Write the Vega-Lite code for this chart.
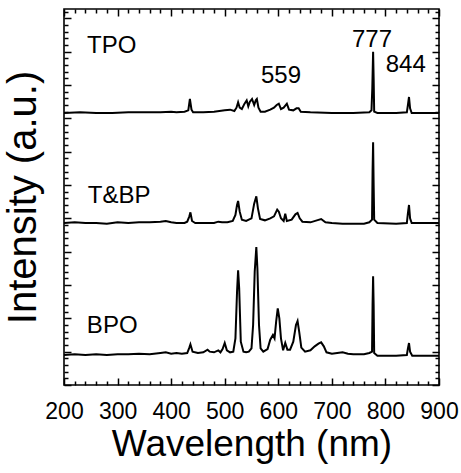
{
  "$schema": "https://vega.github.io/schema/vega-lite/v6.json",
  "autosize": "none",
  "width": 375,
  "height": 376,
  "padding": {"left": 64, "top": 9, "right": 22, "bottom": 88},
  "background": "white",
  "config": {
    "view": {"stroke": "black", "strokeWidth": 1.6},
    "font": "Liberation Sans",
    "axis": {"grid": false, "domain": false, "tickColor": "black", "tickWidth": 1.5, "tickRound": true, "labelColor": "black", "titleColor": "black", "titleFontWeight": "normal", "labelFont": "Liberation Sans", "titleFont": "Liberation Sans"}
  },
  "datasets": {
    "spectra": [
      {"s":"BPO","w":200,"v":4.5},{"s":"BPO","w":220,"v":4.6},{"s":"BPO","w":240,"v":4.5},{"s":"BPO","w":260,"v":4.6},{"s":"BPO","w":280,"v":4.5},{"s":"BPO","w":300,"v":4.6},{"s":"BPO","w":320,"v":4.6},{"s":"BPO","w":340,"v":4.7},{"s":"BPO","w":360,"v":4.6},{"s":"BPO","w":380,"v":4.8},{"s":"BPO","w":390,"v":4.9},{"s":"BPO","w":400,"v":4.7},{"s":"BPO","w":410,"v":4.8},{"s":"BPO","w":420,"v":4.7},{"s":"BPO","w":430,"v":4.8},{"s":"BPO","w":434,"v":5.6},{"s":"BPO","w":436,"v":6.1},{"s":"BPO","w":440,"v":5.0},{"s":"BPO","w":450,"v":4.8},{"s":"BPO","w":460,"v":4.9},{"s":"BPO","w":468,"v":5.3},{"s":"BPO","w":472,"v":5.0},{"s":"BPO","w":480,"v":4.9},{"s":"BPO","w":488,"v":5.2},{"s":"BPO","w":492,"v":4.9},{"s":"BPO","w":496,"v":5.4},{"s":"BPO","w":500,"v":6.3},{"s":"BPO","w":504,"v":5.2},{"s":"BPO","w":510,"v":4.9},{"s":"BPO","w":516,"v":5.0},{"s":"BPO","w":520,"v":7.0},{"s":"BPO","w":523,"v":14.0},{"s":"BPO","w":525,"v":17.2},{"s":"BPO","w":527,"v":14.5},{"s":"BPO","w":530,"v":6.5},{"s":"BPO","w":535,"v":5.0},{"s":"BPO","w":540,"v":4.9},{"s":"BPO","w":545,"v":5.0},{"s":"BPO","w":550,"v":5.5},{"s":"BPO","w":553,"v":9.0},{"s":"BPO","w":556,"v":17.0},{"s":"BPO","w":559,"v":20.7},{"s":"BPO","w":561,"v":17.5},{"s":"BPO","w":564,"v":9.0},{"s":"BPO","w":567,"v":5.5},{"s":"BPO","w":572,"v":5.0},{"s":"BPO","w":580,"v":5.4},{"s":"BPO","w":585,"v":6.8},{"s":"BPO","w":590,"v":7.5},{"s":"BPO","w":593,"v":7.0},{"s":"BPO","w":596,"v":9.5},{"s":"BPO","w":599,"v":11.5},{"s":"BPO","w":602,"v":10.0},{"s":"BPO","w":605,"v":7.0},{"s":"BPO","w":609,"v":5.2},{"s":"BPO","w":613,"v":6.3},{"s":"BPO","w":617,"v":5.3},{"s":"BPO","w":622,"v":5.3},{"s":"BPO","w":628,"v":6.5},{"s":"BPO","w":633,"v":9.0},{"s":"BPO","w":636,"v":9.6},{"s":"BPO","w":639,"v":8.0},{"s":"BPO","w":643,"v":5.6},{"s":"BPO","w":650,"v":5.0},{"s":"BPO","w":660,"v":5.2},{"s":"BPO","w":668,"v":5.8},{"s":"BPO","w":675,"v":6.2},{"s":"BPO","w":680,"v":6.4},{"s":"BPO","w":685,"v":5.8},{"s":"BPO","w":690,"v":4.9},{"s":"BPO","w":700,"v":4.7},{"s":"BPO","w":710,"v":4.8},{"s":"BPO","w":720,"v":4.9},{"s":"BPO","w":730,"v":4.7},{"s":"BPO","w":740,"v":4.6},{"s":"BPO","w":750,"v":4.6},{"s":"BPO","w":760,"v":4.6},{"s":"BPO","w":770,"v":4.8},{"s":"BPO","w":775,"v":5.0},{"s":"BPO","w":776,"v":12.0},{"s":"BPO","w":777,"v":16.3},{"s":"BPO","w":778,"v":12.0},{"s":"BPO","w":779,"v":4.8},{"s":"BPO","w":785,"v":4.4},{"s":"BPO","w":800,"v":4.4},{"s":"BPO","w":820,"v":4.4},{"s":"BPO","w":840,"v":4.5},{"s":"BPO","w":842,"v":5.5},{"s":"BPO","w":844,"v":6.3},{"s":"BPO","w":846,"v":5.0},{"s":"BPO","w":850,"v":4.4},{"s":"BPO","w":870,"v":4.4},{"s":"BPO","w":900,"v":4.4},
      {"s":"TBP","w":200,"v":24.3},{"s":"TBP","w":220,"v":24.4},{"s":"TBP","w":240,"v":24.3},{"s":"TBP","w":260,"v":24.3},{"s":"TBP","w":280,"v":24.2},{"s":"TBP","w":300,"v":24.4},{"s":"TBP","w":320,"v":24.3},{"s":"TBP","w":340,"v":24.4},{"s":"TBP","w":360,"v":24.4},{"s":"TBP","w":380,"v":24.5},{"s":"TBP","w":390,"v":24.6},{"s":"TBP","w":400,"v":24.4},{"s":"TBP","w":410,"v":24.3},{"s":"TBP","w":425,"v":24.3},{"s":"TBP","w":430,"v":24.5},{"s":"TBP","w":434,"v":25.3},{"s":"TBP","w":436,"v":25.9},{"s":"TBP","w":439,"v":24.6},{"s":"TBP","w":445,"v":24.3},{"s":"TBP","w":460,"v":24.3},{"s":"TBP","w":480,"v":24.3},{"s":"TBP","w":488,"v":24.5},{"s":"TBP","w":495,"v":24.4},{"s":"TBP","w":505,"v":24.4},{"s":"TBP","w":515,"v":24.6},{"s":"TBP","w":520,"v":25.5},{"s":"TBP","w":523,"v":27.0},{"s":"TBP","w":525,"v":27.6},{"s":"TBP","w":528,"v":26.0},{"s":"TBP","w":532,"v":24.8},{"s":"TBP","w":540,"v":24.6},{"s":"TBP","w":545,"v":24.8},{"s":"TBP","w":550,"v":25.0},{"s":"TBP","w":555,"v":27.2},{"s":"TBP","w":559,"v":28.3},{"s":"TBP","w":562,"v":26.5},{"s":"TBP","w":566,"v":24.9},{"s":"TBP","w":575,"v":24.7},{"s":"TBP","w":585,"v":25.0},{"s":"TBP","w":592,"v":25.3},{"s":"TBP","w":598,"v":26.3},{"s":"TBP","w":601,"v":26.0},{"s":"TBP","w":605,"v":25.0},{"s":"TBP","w":610,"v":24.6},{"s":"TBP","w":613,"v":25.7},{"s":"TBP","w":616,"v":24.6},{"s":"TBP","w":625,"v":24.8},{"s":"TBP","w":632,"v":25.6},{"s":"TBP","w":636,"v":25.8},{"s":"TBP","w":640,"v":25.0},{"s":"TBP","w":645,"v":24.5},{"s":"TBP","w":660,"v":24.4},{"s":"TBP","w":672,"v":24.7},{"s":"TBP","w":680,"v":24.9},{"s":"TBP","w":688,"v":24.4},{"s":"TBP","w":700,"v":24.3},{"s":"TBP","w":720,"v":24.2},{"s":"TBP","w":740,"v":24.2},{"s":"TBP","w":760,"v":24.2},{"s":"TBP","w":770,"v":24.4},{"s":"TBP","w":775,"v":24.8},{"s":"TBP","w":776,"v":32.0},{"s":"TBP","w":777,"v":36.4},{"s":"TBP","w":778,"v":30.0},{"s":"TBP","w":779,"v":24.8},{"s":"TBP","w":785,"v":24.3},{"s":"TBP","w":820,"v":24.2},{"s":"TBP","w":840,"v":24.3},{"s":"TBP","w":842,"v":25.8},{"s":"TBP","w":844,"v":27.0},{"s":"TBP","w":846,"v":25.0},{"s":"TBP","w":849,"v":24.3},{"s":"TBP","w":870,"v":24.3},{"s":"TBP","w":900,"v":24.3},
      {"s":"TPO","w":200,"v":40.8},{"s":"TPO","w":230,"v":40.9},{"s":"TPO","w":260,"v":40.8},{"s":"TPO","w":290,"v":40.8},{"s":"TPO","w":320,"v":40.9},{"s":"TPO","w":350,"v":40.9},{"s":"TPO","w":380,"v":40.9},{"s":"TPO","w":400,"v":41.0},{"s":"TPO","w":410,"v":40.9},{"s":"TPO","w":425,"v":41.0},{"s":"TPO","w":432,"v":41.2},{"s":"TPO","w":435,"v":42.9},{"s":"TPO","w":438,"v":41.3},{"s":"TPO","w":441,"v":40.9},{"s":"TPO","w":460,"v":40.9},{"s":"TPO","w":480,"v":41.0},{"s":"TPO","w":500,"v":41.2},{"s":"TPO","w":510,"v":41.3},{"s":"TPO","w":518,"v":41.1},{"s":"TPO","w":522,"v":41.6},{"s":"TPO","w":525,"v":42.4},{"s":"TPO","w":528,"v":41.6},{"s":"TPO","w":532,"v":41.4},{"s":"TPO","w":537,"v":42.2},{"s":"TPO","w":541,"v":42.7},{"s":"TPO","w":544,"v":41.8},{"s":"TPO","w":547,"v":42.5},{"s":"TPO","w":551,"v":42.9},{"s":"TPO","w":555,"v":42.0},{"s":"TPO","w":558,"v":42.7},{"s":"TPO","w":560,"v":42.9},{"s":"TPO","w":563,"v":41.6},{"s":"TPO","w":567,"v":41.0},{"s":"TPO","w":575,"v":41.0},{"s":"TPO","w":585,"v":41.3},{"s":"TPO","w":592,"v":41.6},{"s":"TPO","w":597,"v":42.0},{"s":"TPO","w":601,"v":42.2},{"s":"TPO","w":605,"v":41.4},{"s":"TPO","w":610,"v":41.6},{"s":"TPO","w":616,"v":42.2},{"s":"TPO","w":620,"v":41.3},{"s":"TPO","w":628,"v":41.2},{"s":"TPO","w":634,"v":41.5},{"s":"TPO","w":638,"v":41.5},{"s":"TPO","w":642,"v":41.0},{"s":"TPO","w":660,"v":40.9},{"s":"TPO","w":700,"v":40.8},{"s":"TPO","w":740,"v":40.8},{"s":"TPO","w":770,"v":40.9},{"s":"TPO","w":774,"v":41.2},{"s":"TPO","w":775.5,"v":44.5},{"s":"TPO","w":777,"v":50.0},{"s":"TPO","w":778,"v":46.0},{"s":"TPO","w":779,"v":41.0},{"s":"TPO","w":785,"v":40.8},{"s":"TPO","w":820,"v":40.8},{"s":"TPO","w":840,"v":40.9},{"s":"TPO","w":842,"v":42.0},{"s":"TPO","w":844,"v":43.2},{"s":"TPO","w":846,"v":41.5},{"s":"TPO","w":849,"v":40.8},{"s":"TPO","w":900,"v":40.8}
    ],
    "labels": [
      {"t":"TPO","w":289,"v":49.8},
      {"t":"T&BP","w":303,"v":27.3},
      {"t":"BPO","w":290,"v":7.8},
      {"t":"777","w":775,"v":50.7},
      {"t":"844","w":838,"v":46.95},
      {"t":"559","w":605,"v":45.3}
    ]
  },
  "layer": [
    {
      "data": {"name": "spectra"},
      "mark": {"type": "line", "color": "black", "strokeWidth": 2, "clip": true},
      "encoding": {
        "x": {
          "field": "w", "type": "quantitative",
          "scale": {"domain": [200, 900], "nice": false, "zero": false},
          "axis": {
            "orient": "bottom",
            "values": [200,220,240,260,280,300,320,340,360,380,400,420,440,460,480,500,520,540,560,580,600,620,640,660,680,700,720,740,760,780,800,820,840,860,880,900],
            "tickSize": {"condition": {"test": "datum.value % 100 === 0", "value": -7}, "value": -4},
            "labelExpr": "datum.value % 100 === 0 ? datum.label : ''",
            "labelFontSize": 23,
            "labelPadding": 22,
            "labelFlush": false,
            "labelOverlap": false,
            "labelBound": false,
            "title": "Wavelength (nm)",
            "titleFontSize": 37,
            "titlePadding": 0
          }
        },
        "y": {
          "field": "v", "type": "quantitative",
          "scale": {"domain": [0, 56.4], "nice": false, "zero": false},
          "axis": {
            "orient": "left",
            "values": [0,1,2,3,4,5,6,7,8,9,10,11,12,13,14,15,16,17,18,19,20,21,22,23,24,25,26,27,28,29,30,31,32,33,34,35,36,37,38,39,40,41,42,43,44,45,46,47,48,49,50,51,52,53,54,55,56],
            "tickSize": {"condition": {"test": "datum.value % 5 === 0", "value": -7}, "value": -4},
            "labels": false,
            "title": "Intensity (a.u.)",
            "titleFontSize": 40,
            "titlePadding": 20
          }
        },
        "detail": {"field": "s"}
      }
    },
    {
      "data": {"name": "labels"},
      "mark": {"type": "text", "fontSize": 24, "baseline": "alphabetic", "align": "center", "color": "black", "font": "Liberation Sans"},
      "encoding": {
        "x": {
          "field": "w", "type": "quantitative",
          "axis": {
            "orient": "top",
            "values": [200,220,240,260,280,300,320,340,360,380,400,420,440,460,480,500,520,540,560,580,600,620,640,660,680,700,720,740,760,780,800,820,840,860,880,900],
            "tickSize": {"condition": {"test": "datum.value % 100 === 0", "value": -7}, "value": -4},
            "labels": false,
            "title": null
          }
        },
        "y": {
          "field": "v", "type": "quantitative",
          "axis": {
            "orient": "right",
            "values": [0,1,2,3,4,5,6,7,8,9,10,11,12,13,14,15,16,17,18,19,20,21,22,23,24,25,26,27,28,29,30,31,32,33,34,35,36,37,38,39,40,41,42,43,44,45,46,47,48,49,50,51,52,53,54,55,56],
            "tickSize": {"condition": {"test": "datum.value % 5 === 0", "value": -7}, "value": -4},
            "labels": false,
            "title": null
          }
        },
        "text": {"field": "t"}
      }
    }
  ],
  "resolve": {"axis": {"x": "independent", "y": "independent"}}
}
